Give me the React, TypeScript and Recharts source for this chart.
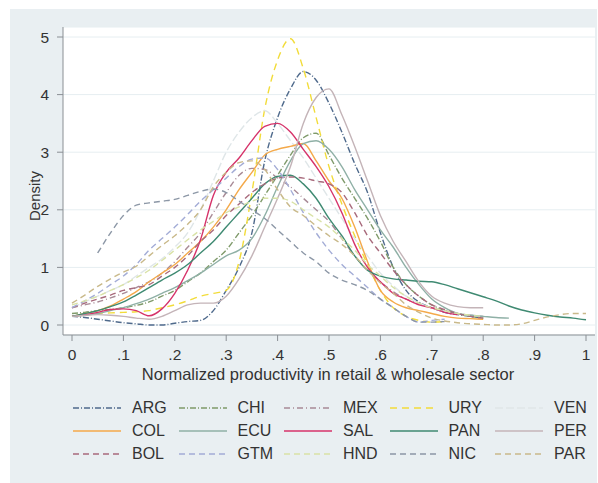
import { LineChart, Line, XAxis, YAxis, CartesianGrid } from "recharts";

const FONT = '"Liberation Sans", Arial, sans-serif';

// productivity grid (0 .. 1, step .025)
const xs = [
  0, 0.025, 0.05, 0.075, 0.1, 0.125, 0.15, 0.175, 0.2, 0.225, 0.25, 0.275, 0.3, 0.325,
  0.35, 0.375, 0.4, 0.425, 0.45, 0.475, 0.5, 0.525, 0.55, 0.575, 0.6, 0.625, 0.65,
  0.675, 0.7, 0.725, 0.75, 0.775, 0.8, 0.825, 0.85, 0.875, 0.9, 0.925, 0.95, 0.975, 1,
];

const xTicks = [0, 0.1, 0.2, 0.3, 0.4, 0.5, 0.6, 0.7, 0.8, 0.9, 1];
const xTickLabels = ["0", ".1", ".2", ".3", ".4", ".5", ".6", ".7", ".8", ".9", "1"];
const yTicks = [0, 1, 2, 3, 4, 5];

// kernel density values
const ARG = [0.15, 0.13, 0.1, 0.07, 0.04, 0.02, 0.0, 0.0, 0.03, 0.06, 0.08, 0.25, 0.6, 1.0, 1.6, 2.85, 3.6, 4.1, 4.4, 4.25, 3.85, 3.35, 2.8, 2.3, 1.6, 1.0, 0.6, 0.4, 0.3, 0.22, 0.18, 0.15, 0.12, null, null, null, null, null, null, null, null];
const CHI = [0.2, 0.22, 0.25, 0.27, 0.3, 0.34, 0.4, 0.5, 0.6, 0.75, 0.9, 1.1, 1.3, 1.6, 1.9, 2.25, 2.6, 2.95, 3.25, 3.33, 2.95, 2.55, 2.2, 1.85, 1.45, 1.0, 0.7, 0.5, 0.35, 0.25, 0.2, 0.15, 0.12, null, null, null, null, null, null, null, null];
const MEX = [0.3, 0.35, 0.4, 0.47, 0.55, 0.65, 0.75, 0.9, 1.1, 1.35, 1.6, 1.95, 2.3, 2.6, 2.72, 2.7, 2.55, 2.4, 2.2, 2.0, 1.8, 1.5, 1.2, 0.95, 0.75, 0.58, 0.45, 0.37, 0.3, 0.25, 0.2, 0.17, 0.15, null, null, null, null, null, null, null, null];
const URY = [0.15, 0.17, 0.2, 0.21, 0.22, 0.23, 0.25, 0.3, 0.35, 0.42, 0.5, 0.55, 0.6, 1.1, 2.3, 3.75, 4.6, 4.97, 4.45, 3.6, 2.75, 2.1, 1.55, 1.05, 0.6, 0.3, 0.15, 0.08, 0.05, 0.06, null, null, null, null, null, null, null, null, null, null, null];
const VEN = [0.3, 0.4, 0.5, 0.6, 0.7, 0.85, 1.0, 1.15, 1.35, 1.6, 2.0, 2.5, 3.0, 3.35, 3.6, 3.72, 3.5, 3.2, 2.9, 2.55, 2.2, 1.85, 1.5, 1.2, 0.9, 0.68, 0.5, 0.38, 0.3, 0.24, 0.2, 0.17, 0.15, null, null, null, null, null, null, null, null];
const COL = [0.15, 0.2, 0.25, 0.33, 0.45, 0.58, 0.75, 0.9, 1.05, 1.25, 1.45, 1.7, 2.0, 2.35, 2.65, 2.95, 3.05, 3.1, 3.15, 2.85, 2.5, 2.2, 1.7, 1.1, 0.6, 0.4, 0.3, 0.25, 0.2, 0.15, 0.12, 0.11, 0.1, null, null, null, null, null, null, null, null];
const ECU = [0.15, 0.17, 0.2, 0.25, 0.3, 0.37, 0.45, 0.55, 0.65, 0.77, 0.9, 1.05, 1.2, 1.3, 1.5, 1.9, 2.4, 2.85, 3.15, 3.2, 3.05, 2.75, 2.35, 2.0, 1.65, 1.35, 1.0, 0.7, 0.45, 0.3, 0.2, 0.17, 0.15, 0.13, 0.12, null, null, null, null, null, null];
const SAL = [0.15, 0.18, 0.22, 0.27, 0.28, 0.25, 0.16, 0.28, 0.55, 0.95, 1.48, 2.25, 2.65, 2.9, 3.2, 3.45, 3.5, 3.35, 3.05, 2.75, 2.4, 1.95, 1.4, 1.0, 0.75, 0.55, 0.45, 0.35, 0.3, 0.22, 0.18, null, null, null, null, null, null, null, null, null, null];
const PAN = [0.15, 0.2, 0.25, 0.32, 0.4, 0.52, 0.65, 0.78, 0.9, 1.05, 1.25, 1.45, 1.7, 1.95, 2.2, 2.45, 2.58, 2.6, 2.45, 2.2, 1.85, 1.55, 1.2, 0.95, 0.85, 0.8, 0.78, 0.76, 0.75, 0.7, 0.63, 0.56, 0.49, 0.42, 0.33, 0.26, 0.21, 0.17, 0.14, 0.12, 0.09];
const PER = [0.15, 0.17, 0.18, 0.17, 0.15, 0.12, 0.1, 0.15, 0.25, 0.35, 0.38, 0.38, 0.5, 0.8, 1.2, 1.7, 2.2, 2.75, 3.5, 3.95, 4.1, 3.65, 3.1, 2.5, 1.9, 1.45, 1.1, 0.75, 0.5, 0.38, 0.32, 0.3, 0.3, null, null, null, null, null, null, null, null];
const BOL = [0.3, 0.38, 0.45, 0.52, 0.6, 0.65, 0.7, 0.85, 1.0, 1.2, 1.45, 1.65, 1.9, 2.1, 2.3, 2.45, 2.55, 2.57, 2.55, 2.5, 2.45, 2.3, 1.95, 1.55, 1.25, 0.95, 0.7, 0.5, 0.35, 0.27, 0.2, 0.15, 0.12, null, null, null, null, null, null, null, null];
const GTM = [0.3, 0.42, 0.55, 0.7, 0.85, 1.05, 1.3, 1.5, 1.7, 1.92, 2.15, 2.35, 2.55, 2.75, 2.88, 2.9, 2.7, 2.35, 1.95, 1.6, 1.3, 1.05, 0.85, 0.65, 0.45, 0.3, 0.15, 0.05, 0.08, 0.1, null, null, null, null, null, null, null, null, null, null, null];
const HND = [0.35, 0.42, 0.5, 0.6, 0.7, 0.82, 0.95, 1.12, 1.3, 1.48, 1.65, 1.8, 1.95, 2.05, 2.15, 2.2, 2.2, 2.15, 2.0, 1.85, 1.7, 1.5, 1.3, 1.05, 0.85, 0.65, 0.5, 0.38, 0.3, 0.25, 0.2, 0.17, 0.15, null, null, null, null, null, null, null, null];
const NIC = [null, null, 1.25, 1.6, 1.9, 2.08, 2.12, 2.15, 2.18, 2.25, 2.32, 2.36, 2.3, 2.15, 2.0, 1.85, 1.65, 1.45, 1.25, 1.1, 0.9, 0.78, 0.7, 0.6, 0.45, 0.3, 0.15, 0.05, 0.05, 0.06, null, null, null, null, null, null, null, null, null, null, null];
const PAR = [0.38, 0.52, 0.67, 0.8, 0.92, 1.02, 1.2, 1.38, 1.55, 1.75, 2.0, 2.4, 2.65, 2.82, 2.85, 2.7, 2.35, 2.05, 1.9, 1.72, 1.55, 1.4, 1.2, 0.95, 0.73, 0.55, 0.35, 0.22, 0.12, 0.07, 0.04, 0.02, 0.01, 0.0, 0.0, 0.02, 0.08, 0.14, 0.18, 0.2, 0.2];

const series = [
  { key: "ARG", values: ARG, color: "#4f6a8c", dash: "6 2 1 2" },
  { key: "CHI", values: CHI, color: "#7f9a6a", dash: "6 2 1 2" },
  { key: "MEX", values: MEX, color: "#a88a96", dash: "6 3 1 3" },
  { key: "URY", values: URY, color: "#f2dc3a", dash: "7 5" },
  { key: "VEN", values: VEN, color: "#dfe6e8", dash: "8 3" },
  { key: "COL", values: COL, color: "#f4a94a", dash: undefined },
  { key: "ECU", values: ECU, color: "#8fb0a6", dash: undefined },
  { key: "SAL", values: SAL, color: "#d6336a", dash: undefined },
  { key: "PAN", values: PAN, color: "#3f8a72", dash: undefined },
  { key: "PER", values: PER, color: "#c4b4b8", dash: undefined },
  { key: "BOL", values: BOL, color: "#a86a7c", dash: "6 4" },
  { key: "GTM", values: GTM, color: "#a3acd6", dash: "6 4" },
  { key: "HND", values: HND, color: "#d9e2a6", dash: "6 4" },
  { key: "NIC", values: NIC, color: "#8c97a6", dash: "6 4" },
  { key: "PAR", values: PAR, color: "#c9b98a", dash: "6 4" },
];

const data = xs.map((x, i) => {
  const row: Record<string, number | null> = { x };
  series.forEach((s) => {
    row[s.key] = s.values[i];
  });
  return row;
});

const tickStyle = { fontSize: 15.5, fill: "#333", fontFamily: FONT };

export default function App() {
  return (
    <div style={{ position: "absolute", left: 0, top: 0, width: 598, height: 483, background: "#fff", fontFamily: FONT }}>
      {/* grey graph region */}
      <div style={{ position: "absolute", left: 10, top: 9, width: 587, height: 474, background: "#e9eff2" }} />

      <div style={{ position: "absolute", left: 0, top: 0 }}>
        <LineChart width={598} height={483} data={data} margin={{ top: 27, right: 3, bottom: 118, left: 23 }}>
          <CartesianGrid vertical={false} stroke="#e6eef1" fill="#ffffff" />
          <XAxis
            dataKey="x"
            type="number"
            domain={[0, 1]}
            ticks={xTicks}
            tickFormatter={(v, i) => xTickLabels[i]}
            padding={{ left: 9, right: 9 }}
            height={30}
            tick={tickStyle}
            tickSize={6}
            tickMargin={8}
            stroke="#8a8f94"
            interval={0}
          />
          <YAxis
            type="number"
            domain={[0, 5]}
            ticks={yTicks}
            padding={{ top: 10, bottom: 10 }}
            width={40}
            tick={tickStyle}
            tickSize={6}
            tickMargin={8}
            stroke="#8a8f94"
            interval={0}
          />
          {series.map((s) => (
            <Line
              key={s.key}
              dataKey={s.key}
              type="monotone"
              stroke={s.color}
              strokeWidth={1.4}
              strokeDasharray={s.dash}
              dot={false}
              activeDot={false}
              isAnimationActive={false}
            />
          ))}
        </LineChart>
      </div>

      {/* axis titles */}
      <div
        style={{
          position: "absolute",
          left: 34,
          top: 196,
          transform: "translate(-50%, -50%) rotate(-90deg)",
          fontSize: 15,
          color: "#333",
          whiteSpace: "nowrap",
        }}
      >
        Density
      </div>
      <div
        style={{
          position: "absolute",
          left: 328,
          top: 374,
          transform: "translate(-50%, -50%)",
          fontSize: 16.5,
          lineHeight: "18px",
          color: "#333",
          whiteSpace: "nowrap",
        }}
      >
        Normalized productivity in retail &amp; wholesale sector
      </div>

      {/* legend, 5 columns */}
      {series.map((s, i) => {
        const col = i % 5;
        const row = Math.floor(i / 5);
        const left = 73 + col * 105.5;
        const cy = 408 + row * 23;
        return (
          <div key={s.key} style={{ position: "absolute", left, top: cy - 10, height: 20, display: "flex", alignItems: "center" }}>
            <svg width={48} height={4} style={{ display: "block" }}>
              <line x1={0} y1={2} x2={48} y2={2} stroke={s.color} strokeWidth={1.5} strokeDasharray={s.dash} />
            </svg>
            <span style={{ marginLeft: 11, fontSize: 16, color: "#333", lineHeight: "20px" }}>{s.key}</span>
          </div>
        );
      })}
    </div>
  );
}
